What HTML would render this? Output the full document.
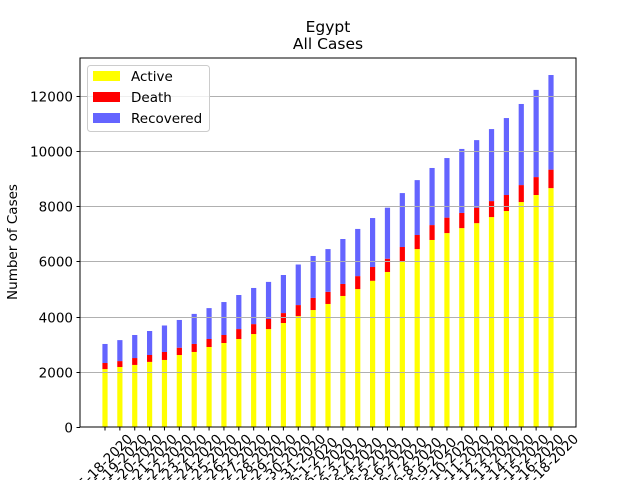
<!DOCTYPE html>
<html><head><meta charset="utf-8"><style>
body{margin:0;background:#fff;}
svg{display:block;font-family:"DejaVu Sans","Liberation Sans",sans-serif;}
</style></head><body>
<svg id="chart" width="640" height="480" xmlns="http://www.w3.org/2000/svg">
<rect width="640" height="480" fill="#fff"/>
<text x="328" y="32" font-size="15.5" text-anchor="middle">Egypt</text>
<text x="328" y="49" font-size="15.5" text-anchor="middle">All Cases</text>
<text transform="translate(17,242) rotate(-90)" font-size="13.5" text-anchor="middle">Number of Cases</text>
<g id="bars"></g>
<g id="grid"></g>
<g id="yticks"></g>
<g id="xticks"></g>
<rect x="80" y="58" width="496" height="369" fill="none" stroke="#000" stroke-width="1"/>
<g>
<rect x="87.5" y="65.5" width="122" height="66" rx="3" fill="#fff" fill-opacity="0.8" stroke="#ccc"/>
<rect x="93" y="71" width="27" height="10" fill="#ffff00"/>
<text x="131" y="81" font-size="13.5">Active</text>
<rect x="93" y="92" width="27" height="10" fill="#ff0000"/>
<text x="131" y="102" font-size="13.5">Death</text>
<rect x="93" y="113" width="27" height="10" fill="#6464ff"/>
<text x="131" y="123" font-size="13.5">Recovered</text>
</g>
</svg>
<script>
const dates = ["5-18-2020","5-19-2020","5-20-2020","5-21-2020","5-22-2020","5-23-2020","5-24-2020","5-25-2020","5-26-2020","5-27-2020","5-28-2020","5-29-2020","5-30-2020","5-31-2020","6-1-2020","6-2-2020","6-3-2020","6-4-2020","6-5-2020","6-6-2020","6-7-2020","6-8-2020","6-9-2020","6-10-2020","6-11-2020","6-12-2020","6-13-2020","6-14-2020","6-15-2020","6-16-2020","6-18-2020"];
const active = [2100,2175,2250,2360,2430,2610,2720,2900,3045,3190,3370,3550,3770,4020,4240,4460,4750,5000,5300,5620,6000,6450,6780,7030,7210,7390,7610,7830,8155,8410,8660];
const death = [220,215,250,250,290,265,290,290,290,360,360,365,360,400,440,440,435,470,500,480,525,510,540,560,550,560,580,580,615,650,670];
const recovered = [690,760,835,870,960,1005,1090,1120,1195,1235,1310,1345,1380,1470,1520,1550,1630,1710,1775,1850,1955,1990,2070,2160,2320,2450,2610,2790,2940,3160,3430];
const yTicks = [0,2000,4000,6000,8000,10000,12000];

const NS="http://www.w3.org/2000/svg";
const x0=80,x1=576,yBot=427,yTop=58;
const yPerPx=2000/55.17;
function yPix(v){return yBot - v/yPerPx;}
function xPix(i){return 105 + i*(446/(dates.length-1));}
const bw=5.2;
function mk(tag,attrs,parent){const e=document.createElementNS(NS,tag);for(const k in attrs)e.setAttribute(k,attrs[k]);parent.appendChild(e);return e;}
const bars=document.getElementById('bars');
const series=[[active,'#ffff00','active'],[death,'#ff0000','death'],[recovered,'#6464ff','recovered']];
dates.forEach((d,i)=>{
  let base=0;
  series.forEach(([arr,col,nm])=>{
    const v=arr[i];
    const r=mk('rect',{x:xPix(i)-bw/2,y:yPix(base+v),width:bw,height:yPix(base)-yPix(base+v),fill:col},bars);
    
    
    base+=v;
  });
});
const grid=document.getElementById('grid'),yt=document.getElementById('yticks');
yTicks.forEach(t=>{
  const y=Math.round(yPix(t))+0.5;
  if(t>0){const l=mk('line',{x1:x0,x2:x1,y1:y,y2:y,stroke:'#b0b0b0','stroke-width':0.9},grid);
  
  }
  mk('line',{x1:x0-3.5,x2:x0,y1:y,y2:y,stroke:'#000'},yt);
  const tx=mk('text',{x:x0-7,y:y+5,'font-size':13.5,'text-anchor':'end'},yt);
  tx.textContent=t;
  
  
});
const xt=document.getElementById('xticks');
dates.forEach((d,i)=>{
  const x=xPix(i);
  mk('line',{x1:x,x2:x,y1:yBot,y2:yBot+3.5,stroke:'#000'},xt);
  const tx=mk('text',{x:x,y:461+5,'font-size':13.5,'text-anchor':'middle',transform:'rotate(-45 '+x+' 461)'},xt);
  tx.textContent=d;
  
  
});
</script>
</body></html>
